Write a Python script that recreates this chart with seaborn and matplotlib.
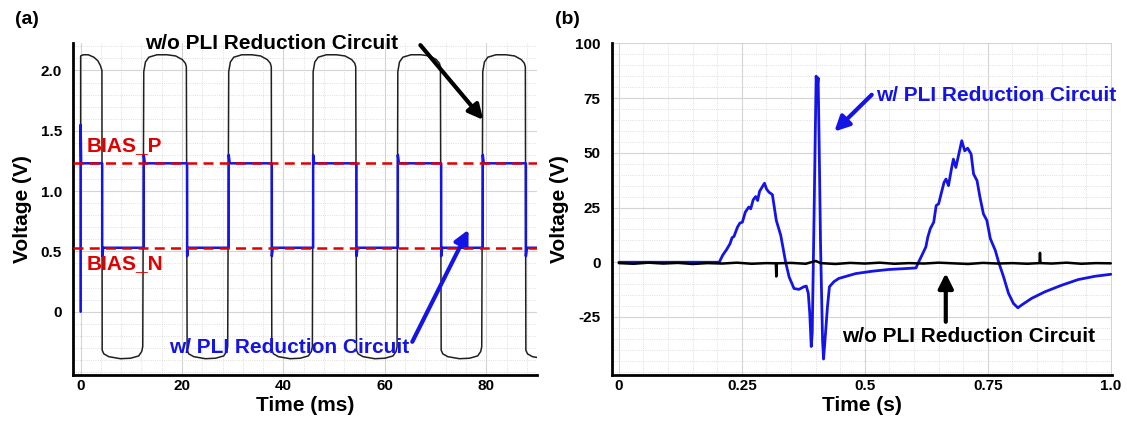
import matplotlib
matplotlib.use("Agg")
import matplotlib.pyplot as plt
from matplotlib.ticker import MultipleLocator
import pandas as pd
import seaborn as sns
import numpy as np

sns.set_theme(style="white")
plt.rcParams['font.family'] = ['Liberation Sans', 'DejaVu Sans']
plt.rcParams['font.weight'] = 'bold'
plt.rcParams['text.color'] = 'black'
plt.rcParams['axes.labelcolor'] = 'black'
plt.rcParams['xtick.color'] = 'black'
plt.rcParams['ytick.color'] = 'black'

BLUE = "#1414e6"
RED = "#e00000"

# ---- (a) electrode bias waveforms, time in ms ----
bias_p = 1.23
bias_n = 0.53
rise_times = [12.45, 29.2, 45.85, 62.55, 79.3]
fall_times = [4.25, 21.0, 37.7, 54.4, 71.1, 87.8]
# black wave: first high phase, then shapes after each edge (offset ms, volts)
first_t = [0.0, 0.0, 0.5, 1.5, 2.6, 3.4, 3.9, 4.2]
first_v = [0.0, 2.12, 2.13, 2.13, 2.11, 2.08, 2.04, 2.0]
high_dt = [0.0, 0.33, 1.0, 2.6, 4.6, 6.3, 7.6, 8.2, 8.4]
high_v = [1.99, 2.07, 2.11, 2.13, 2.13, 2.12, 2.09, 2.06, 2.03]
low_dt = [0.0, 0.33, 1.3, 3.6, 5.6, 7.2, 7.8, 8.0]
low_v = [-0.32, -0.35, -0.373, -0.39, -0.386, -0.367, -0.33, -0.29]
# blue wave: start pulse and edge overshoots
blue_start_t = [0.0, 0.0, 0.1]
blue_start_v = [0.0, 1.55, bias_p]
fall_undershoot = 0.46
rise_overshoot = 1.30

# ---- (b) ECG, time in s ----
ecg_t = [0, 0.204, 0.211, 0.219, 0.226, 0.230, 0.234, 0.241, 0.246, 0.251, 0.257,
         0.264, 0.268, 0.273, 0.278, 0.282, 0.286, 0.296, 0.300, 0.305, 0.312, 0.320,
         0.329, 0.339, 0.346, 0.356, 0.366, 0.376, 0.381, 0.385, 0.388, 0.391, 0.393,
         0.396, 0.399, 0.401, 0.403, 0.405, 0.407, 0.410, 0.414, 0.416, 0.419, 0.424,
         0.428, 0.437, 0.447, 0.481, 0.515, 0.549, 0.582, 0.604, 0.609, 0.616, 0.624,
         0.628, 0.633, 0.640, 0.645, 0.650, 0.655, 0.661, 0.665, 0.670, 0.676, 0.680,
         0.685, 0.691, 0.697, 0.703, 0.709, 0.716, 0.721, 0.728, 0.734, 0.741, 0.748,
         0.755, 0.765, 0.772, 0.782, 0.792, 0.802, 0.811, 0.819, 0.839, 0.866, 0.900,
         0.934, 0.968, 1.0]
ecg_v = [0, 0, 3.2, 5.8, 8.5, 11.2, 11.8, 16, 17.9, 18.3, 22.9,
         25.2, 24.4, 28.5, 30, 28.2, 32.4, 36.1, 33.5, 32, 30.9, 19.1,
         12.3, 0, -6.7, -12, -12.4, -11.2, -10.9, -14.2, -23.3, -38.5, -32.4,
         10, 55.5, 85, 79, 84.2, 55.5, 7, -35.5, -44.2, -35.5, -20.3,
         -11.2, -8.9, -7.4, -5.2, -4.1, -3.3, -2.9, -2.6, 0, 3.2, 7,
         11.5, 15.3, 18.3, 25.9, 26.7, 31.2, 36.5, 38, 35, 42.6, 47.1,
         43.3, 49.4, 55.5, 50.9, 52.1, 49.4, 40.3, 37.3, 29.7, 22.1, 19.1,
         10.8, 5.5, 0, -6.7, -14.2, -18.8, -20.8, -19.5, -16.5, -13.5, -10.5,
         -7.9, -6.4, -5.5]
flat_t = [0.00, 0.03, 0.06, 0.09, 0.12, 0.15, 0.18, 0.21, 0.24, 0.27,
          0.30, 0.319, 0.320, 0.321, 0.35, 0.38, 0.40, 0.41, 0.44, 0.47,
          0.50, 0.53, 0.56, 0.59, 0.62, 0.65, 0.68, 0.71, 0.74, 0.77,
          0.80, 0.83, 0.855, 0.856, 0.857, 0.88, 0.91, 0.94, 0.97, 1.00]
flat_v = [-0.4, -0.7, -0.2, -0.6, -0.3, -0.8, -0.4, -0.6, -0.2, -0.7,
          -0.4, -0.5, -6.5, -0.5, -0.3, -0.7, 0.6, -0.4, -0.8, -0.3,
          -0.6, -0.2, -0.7, -0.4, -0.6, -0.2, -0.5, -0.8, -0.3, -0.6,
          -0.4, -0.7, -0.4, 4.3, -0.4, -0.6, -0.2, -0.7, -0.4, -0.5]

# build the square waves from the read edge times and shapes
edges = sorted([(t, 'f') for t in fall_times] + [(t, 'r') for t in rise_times])
bt, bv = list(first_t), list(first_v)
ut, uv = list(blue_start_t), list(blue_start_v)
for t0, kind in edges:
    if kind == 'f':
        bt += [t0 + d for d in low_dt]
        bv += low_v
        ut += [t0, t0, t0 + 0.2]
        uv += [bias_p, fall_undershoot, bias_n]
    else:
        bt += [t0 + d for d in high_dt]
        bv += high_v
        ut += [t0, t0, t0 + 0.2]
        uv += [bias_n, rise_overshoot, bias_p]
ut.append(90)
uv.append(bias_n)
black_a = pd.DataFrame({'t': bt, 'v': bv})
blue_a = pd.DataFrame({'t': ut, 'v': uv})
ecg = pd.DataFrame({'t': ecg_t, 'v': ecg_v})
flat = pd.DataFrame({'t': flat_t, 'v': flat_v})

fig = plt.figure(figsize=(11.27, 4.23), dpi=100)
ax1 = fig.add_axes([0.0648, 0.1135, 0.4117, 0.7841])
ax2 = fig.add_axes([0.5426, 0.1135, 0.4437, 0.7841])


def style(ax):
    for s in ['top', 'right']:
        ax.spines[s].set_visible(False)
    for s in ['left', 'bottom']:
        ax.spines[s].set_color('black')
        ax.spines[s].set_linewidth(2.0)
    ax.grid(which='major', color='#d4d4d4', lw=0.8)
    ax.grid(which='minor', color='#d4d4d4', lw=0.6, ls=':')
    ax.set_axisbelow(True)
    ax.tick_params(which='major', direction='in', length=4, width=1.5,
                   colors='black', labelcolor='black', labelsize=11)
    ax.tick_params(axis='y', pad=8)
    ax.tick_params(axis='x', pad=3)
    ax.tick_params(which='minor', length=0)
    for lab in ax.get_xticklabels() + ax.get_yticklabels():
        lab.set_fontweight('bold')
        lab.set_color('black')


# (a)
sns.lineplot(data=black_a, x='t', y='v', ax=ax1, sort=False, estimator=None,
             color='#202020', lw=1.1, zorder=2)
sns.lineplot(data=blue_a, x='t', y='v', ax=ax1, sort=False, estimator=None,
             color=BLUE, lw=1.8, zorder=3)
ax1.axhline(bias_p, color=RED, lw=1.8, ls=(0, (4, 2.5)), zorder=4)
ax1.axhline(bias_n, color=RED, lw=1.8, ls=(0, (4, 2.5)), zorder=4)
ax1.set_xlim(-1.5, 90)
ax1.set_ylim(-0.525, 2.225)
ax1.set_xticks([0, 20, 40, 60, 80])
ax1.set_xticklabels(['0', '20', '40', '60', '80'])
ax1.set_yticks([0, 0.5, 1.0, 1.5, 2.0])
ax1.set_yticklabels(['0', '0.5', '1.0', '1.5', '2.0'])
ax1.xaxis.set_minor_locator(MultipleLocator(4))
ax1.yaxis.set_minor_locator(MultipleLocator(0.1))
style(ax1)
ax1.set_xlabel('Time (ms)', fontsize=15, fontweight='bold', labelpad=2,
               color='black')
ax1.set_ylabel('Voltage (V)', fontsize=15, fontweight='bold', labelpad=6,
               color='black')

ax1.text(1.2, 1.38, 'BIAS_P', color=RED, fontsize=15, fontweight='bold',
         ha='left', va='center')
ax1.text(1.2, 0.40, 'BIAS_N', color=RED, fontsize=15, fontweight='bold',
         ha='left', va='center')
ax1.text(37.7, 2.22, 'w/o PLI Reduction Circuit', color='black', fontsize=15,
         fontweight='bold', ha='center', va='center')
ax1.text(41.1, -0.30, 'w/ PLI Reduction Circuit', color=BLUE, fontsize=15,
         fontweight='bold', ha='center', va='center')
ax1.annotate('', xy=(79.4, 1.59), xytext=(67.0, 2.21),
             arrowprops=dict(arrowstyle='-|>', color='black', lw=3,
                             mutation_scale=22, shrinkA=0, shrinkB=0),
             annotation_clip=False)
ax1.annotate('', xy=(76.5, 0.68), xytext=(65.4, -0.25),
             arrowprops=dict(arrowstyle='-|>', color=BLUE, lw=3,
                             mutation_scale=22, shrinkA=0, shrinkB=0),
             annotation_clip=False)

# (b)
sns.lineplot(data=ecg, x='t', y='v', ax=ax2, sort=False, estimator=None,
             color=BLUE, lw=2.0, zorder=2)
sns.lineplot(data=flat, x='t', y='v', ax=ax2, sort=False, estimator=None,
             color='black', lw=1.8, zorder=3)
ax2.set_xlim(-0.015, 1.0015)
ax2.set_ylim(-51.5, 100)
ax2.set_xticks([0, 0.25, 0.5, 0.75, 1.0])
ax2.set_xticklabels(['0', '0.25', '0.5', '0.75', '1.0'])
ax2.set_yticks([-25, 0, 25, 50, 75, 100])
ax2.set_yticklabels(['-25', '0', '25', '50', '75', '100'])
ax2.xaxis.set_minor_locator(MultipleLocator(0.05))
ax2.yaxis.set_minor_locator(MultipleLocator(5))
style(ax2)
ax2.set_xlabel('Time (s)', fontsize=15, fontweight='bold', labelpad=2,
               color='black')
ax2.set_ylabel('Voltage (V)', fontsize=15, fontweight='bold', labelpad=4,
               color='black')

ax2.text(0.766, 76, 'w/ PLI Reduction Circuit', color=BLUE, fontsize=15,
         fontweight='bold', ha='center', va='center')
ax2.text(0.710, -33.7, 'w/o PLI Reduction Circuit', color='black', fontsize=15,
         fontweight='bold', ha='center', va='center')
ax2.annotate('', xy=(0.438, 59.7), xytext=(0.514, 76.5),
             arrowprops=dict(arrowstyle='-|>', color=BLUE, lw=3,
                             mutation_scale=22, shrinkA=0, shrinkB=0))
ax2.annotate('', xy=(0.6645, -5.0), xytext=(0.6645, -27.2),
             arrowprops=dict(arrowstyle='-|>', color='black', lw=3,
                             mutation_scale=22, shrinkA=0, shrinkB=0))

fig.text(15 / 1127, 1 - 20 / 423, '(a)', fontsize=14, fontweight='bold',
         ha='left', va='center', color='black')
fig.text(555 / 1127, 1 - 20 / 423, '(b)', fontsize=14, fontweight='bold',
         ha='left', va='center', color='black')

fig.savefig('out.png', dpi=100)
